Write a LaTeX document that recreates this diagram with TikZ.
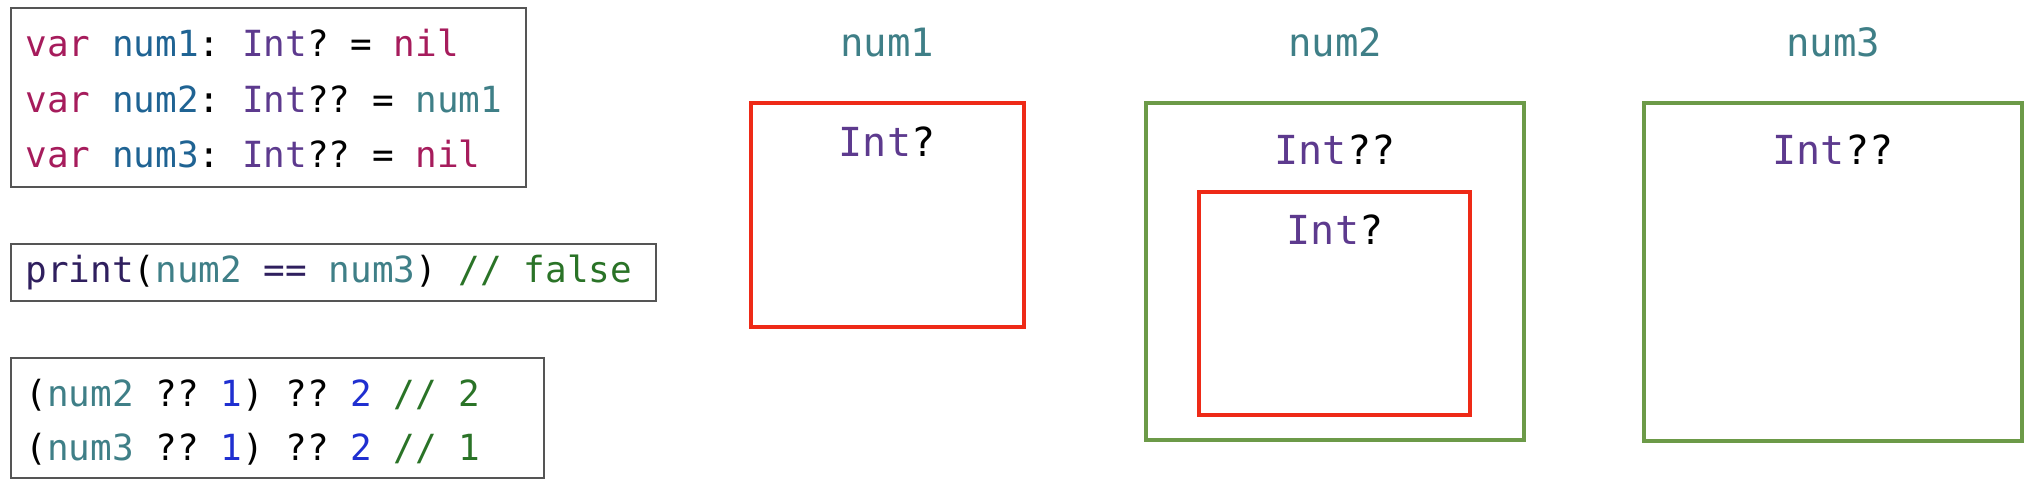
\documentclass[tikz,border=0pt]{standalone}
\usepackage{fontspec}
\setmonofont{DejaVu Sans Mono}
\usetikzlibrary{fit}
\definecolor{kwcol}{HTML}{A61C5C}
\definecolor{dccol}{HTML}{1F6393}
\definecolor{tycol}{HTML}{5D3A8E}
\definecolor{rfcol}{HTML}{3F7F87}
\definecolor{fncol}{HTML}{2F1F5E}
\definecolor{cmcol}{HTML}{2A7327}
\definecolor{nbcol}{HTML}{1F2FD0}
\definecolor{optred}{HTML}{EE2A17}
\definecolor{dblgreen}{HTML}{6C9A48}
\definecolor{boxgray}{HTML}{555555}
\newcommand{\cKw}[1]{\textcolor{kwcol}{#1}}
\newcommand{\cDc}[1]{\textcolor{dccol}{#1}}
\newcommand{\cTy}[1]{\textcolor{tycol}{#1}}
\newcommand{\cRf}[1]{\textcolor{rfcol}{#1}}
\newcommand{\cFn}[1]{\textcolor{fncol}{#1}}
\newcommand{\cCm}[1]{\textcolor{cmcol}{#1}}
\newcommand{\cNb}[1]{\textcolor{nbcol}{#1}}
\tikzset{
  codebox/.style={draw=boxgray, line width=1pt, inner sep=0pt},
  codeline/.style={anchor=base west, inner sep=0pt, font=\ttfamily\fontsize{18pt}{18pt}\selectfont},
  optbox/.style={draw=optred, line width=2.2pt, inner sep=0pt},
  dblbox/.style={draw=dblgreen, line width=2pt, inner sep=0pt},
  varlbl/.style={anchor=base, inner sep=0pt, text=rfcol, font=\ttfamily\fontsize{19.5pt}{19.5pt}\selectfont},
  tylbl/.style={anchor=base, inner sep=0pt, font=\ttfamily\fontsize{20pt}{20pt}\selectfont}
}
\begin{document}
\begin{tikzpicture}[x=0.5pt,y=-0.5pt,line join=miter]
\useasboundingbox (0,0) rectangle (2030,490);
% code on the left
\node[codebox,fit={(11,8) (526,187)}] (decl) {};
\node[codeline] (decl1) at (25,57) {\cKw{var} \cDc{num1}: \cTy{Int}? = \cKw{nil}};
\node[codeline] (decl2) at (25,113) {\cKw{var} \cDc{num2}: \cTy{Int}?? = \cRf{num1}};
\node[codeline] (decl3) at (25,168) {\cKw{var} \cDc{num3}: \cTy{Int}?? = \cKw{nil}};
\node[codebox,fit={(11,244) (656,301)}] (cmp) {};
\node[codeline] (cmp1) at (25,283) {\cFn{print}(\cRf{num2} \cFn{==} \cRf{num3}) \cCm{// false}};
\node[codebox,fit={(11,358) (544,478)}] (coal) {};
\node[codeline] (coal1) at (25,407) {(\cRf{num2} ?? \cNb{1}) ?? \cNb{2} \cCm{// 2}};
\node[codeline] (coal2) at (25,461) {(\cRf{num3} ?? \cNb{1}) ?? \cNb{2} \cCm{// 1}};

% the three variables
\foreach \n/\x in {1/887,2/1335,3/1833}
  \node[varlbl] (lbl\n) at (\x,57) {num\n};
\node[optbox,fit={(751,103) (1024,327)}] (box1) {};
\node[tylbl] (ty1) at (887,157) {\cTy{Int}?};
\node[dblbox,fit={(1146,103) (1524,440)}] (box2) {};
\node[tylbl] (ty2) at (1335,165) {\cTy{Int}??};
\node[optbox,fit={(1199,192) (1470,415)}] (box2in) {};
\node[tylbl] (ty2in) at (1335,245) {\cTy{Int}?};
\node[dblbox,fit={(1644,103) (2022,441)}] (box3) {};
\node[tylbl] (ty3) at (1833,165) {\cTy{Int}??};
\end{tikzpicture}
\end{document}
